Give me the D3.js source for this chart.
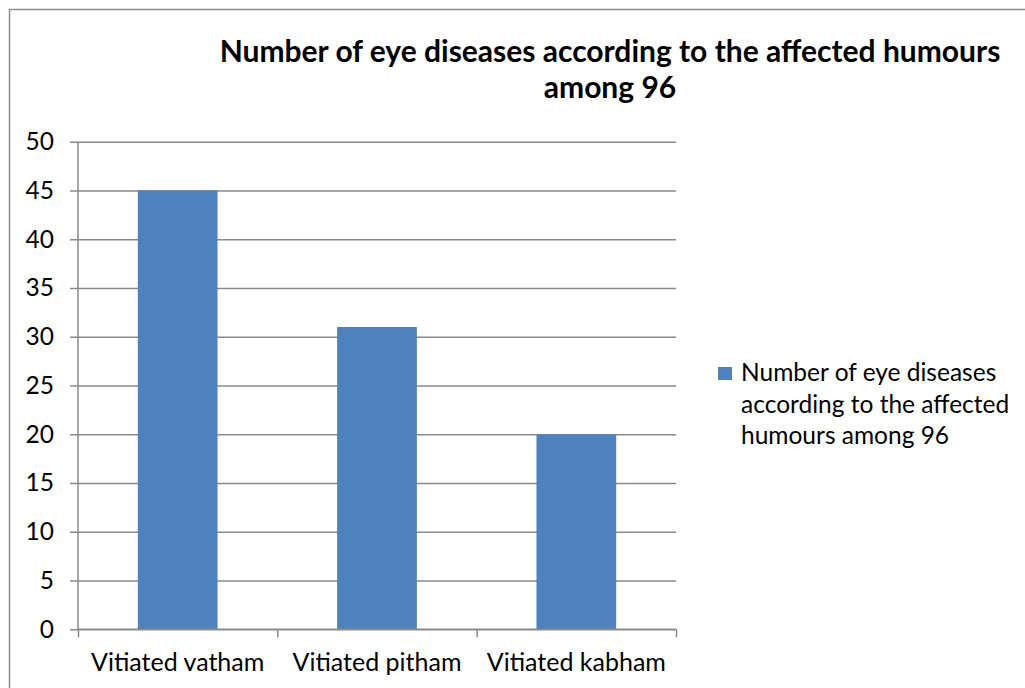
<!DOCTYPE html>
<html>
<head>
<meta charset="utf-8">
<script src="https://cdn.jsdelivr.net/npm/d3@7"></script>
<style>
  body { margin: 0; background: #fff; }
  svg { display: block; font-family: Lato, 'Noto Sans', sans-serif; }
</style>
</head>
<body>
<svg></svg>
<script>
//Chart data
var categories = ['Vitiated vatham', 'Vitiated pitham', 'Vitiated kabham'];
var values = [45, 31, 20];
var yTicks = [0, 5, 10, 15, 20, 25, 30, 35, 40, 45, 50];
var titleLines = ['Number of eye diseases according to the affected humours', 'among 96'];
var legendLines = ['Number of eye diseases', 'according to the affected', 'humours among 96'];

//General variables
var width = 1025;
var height = 688;
var plot = { left: 78, right: 676, top: 141.7, bottom: 629.3 };
var gridColor = '#8a8a8a';
var barColor = '#4f81bd';

var svg = d3.select('svg')
    .attr('width', width)
    .attr('height', height);

//Outer chart border (runs off the right and bottom edges)
svg.append('rect')
    .attr('x', 9.5)
    .attr('y', 9.5)
    .attr('width', width + 20)
    .attr('height', height + 20)
    .attr('fill', '#fff')
    .attr('stroke', '#8c8c8c')
    .attr('stroke-width', 1.5);

//Scales
var x = d3.scaleBand()
    .domain(categories)
    .range([plot.left, plot.right])
    .paddingInner(0.6)
    .paddingOuter(0.3);

var xEdges = d3.scaleLinear()
    .domain([0, categories.length])
    .range([plot.left, plot.right]);

var y = d3.scaleLinear()
    .domain([0, 50])
    .range([plot.bottom, plot.top]);

//Title
svg.append('g')
    .selectAll('text')
    .data(titleLines)
    .enter().append('text')
        .attr('x', 610)
        .attr('y', (d, i) => 62 + i * 36)
        .attr('text-anchor', 'middle')
        .attr('font-size', 30)
        .attr('font-weight', 'bold')
        .attr('fill', '#000')
        .text(d => d);

//Gridlines and y tick labels
var yAxis = svg.append('g')
    .attr('transform', `translate(${plot.left}, 0)`)
    .call(d3.axisLeft(y).tickValues(yTicks).tickSize(8).tickPadding(16));

yAxis.select('.domain').remove();
yAxis.selectAll('.tick line')
    .attr('x2', plot.right - plot.left)
    .attr('x1', -8)
    .attr('stroke', gridColor)
    .attr('stroke-width', 1.5);
yAxis.selectAll('.tick text')
    .attr('font-size', 24.5)
    .attr('font-family', "Lato, 'Noto Sans', sans-serif")
    .attr('fill', '#000');

//Y axis line
svg.append('line')
    .attr('x1', plot.left).attr('x2', plot.left)
    .attr('y1', y(50)).attr('y2', y(0))
    .attr('stroke', gridColor)
    .attr('stroke-width', 1.5);

//Bars
svg.append('g')
    .selectAll('rect')
    .data(values)
    .enter().append('rect')
        .attr('x', (d, i) => x(categories[i]))
        .attr('width', x.bandwidth())
        .attr('y', d => y(d))
        .attr('height', d => y(0) - y(d))
        .attr('fill', barColor);

//X axis with ticks at the category boundaries
var xAxis = svg.append('g')
    .attr('transform', `translate(0, ${y(0)})`)
    .call(d3.axisBottom(xEdges).ticks(categories.length).tickSize(8).tickFormat(''));

xAxis.select('.domain')
    .attr('d', `M${plot.left},0H${plot.right}`)
    .attr('stroke', gridColor)
    .attr('stroke-width', 1.5);
xAxis.selectAll('.tick line')
    .attr('stroke', gridColor)
    .attr('stroke-width', 1.5);

//Category labels
svg.append('g')
    .selectAll('text')
    .data(categories)
    .enter().append('text')
        .attr('x', d => x(d) + x.bandwidth() / 2)
        .attr('y', 671)
        .attr('text-anchor', 'middle')
        .attr('font-size', 25)
        .attr('fill', '#000')
        .text(d => d);

//Legend
var legend = svg.append('g');
legend.append('rect')
    .attr('x', 718)
    .attr('y', 367)
    .attr('width', 14)
    .attr('height', 13)
    .attr('fill', barColor);
legend.selectAll('text')
    .data(legendLines)
    .enter().append('text')
        .attr('x', 741)
        .attr('y', (d, i) => 381 + i * 31.5)
        .attr('font-size', 24.5)
        .attr('fill', '#000')
        .text(d => d);
</script>
</body>
</html>
